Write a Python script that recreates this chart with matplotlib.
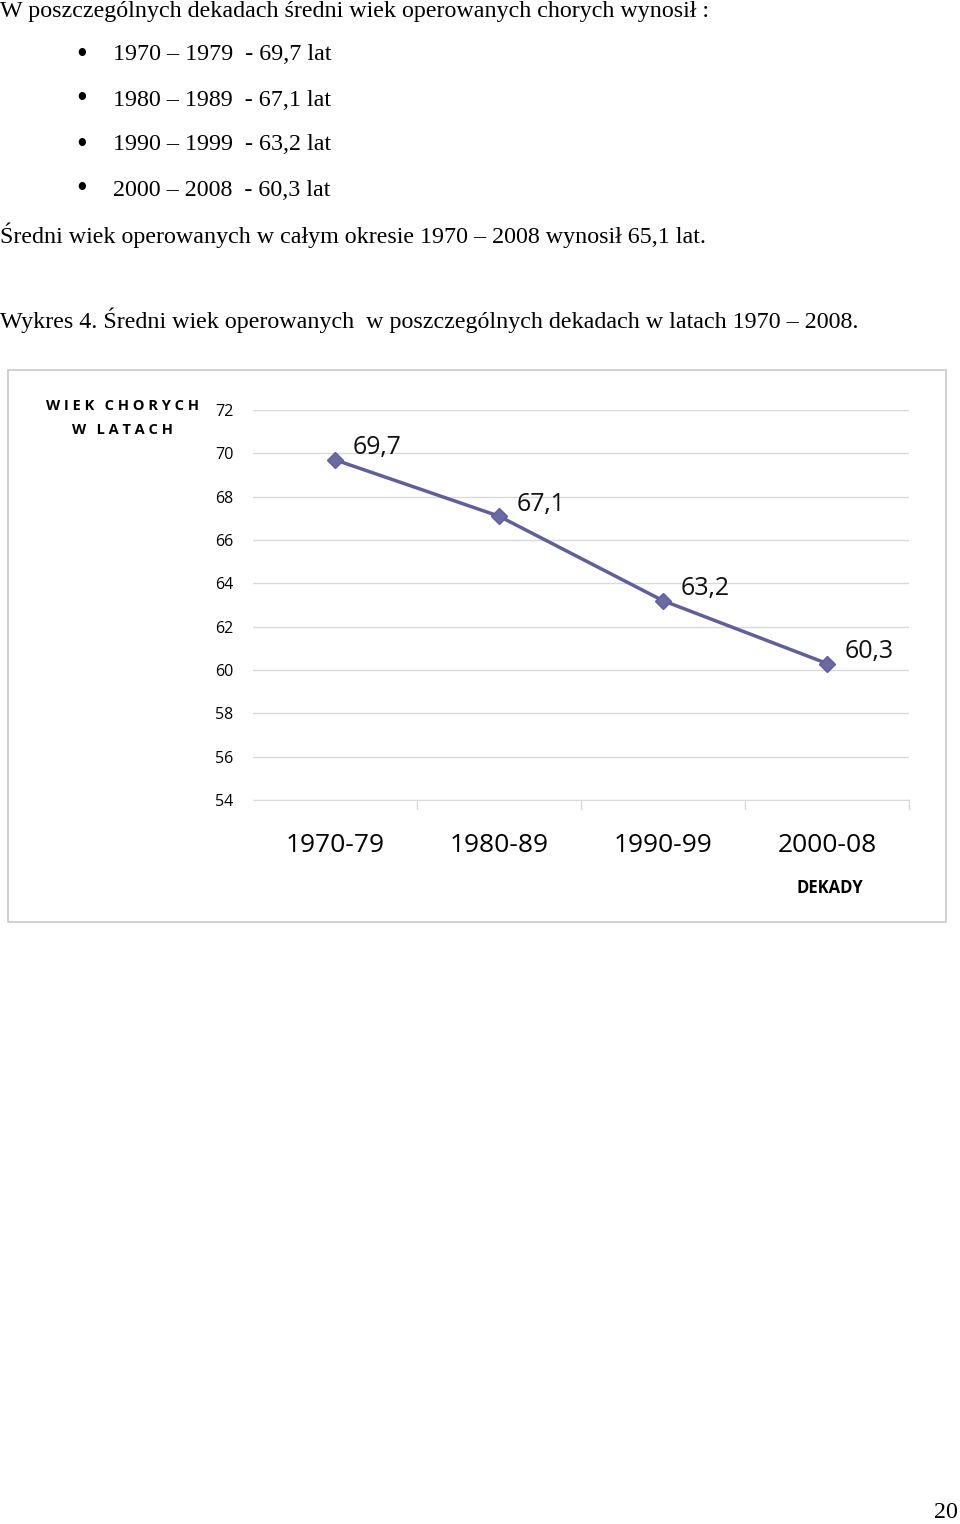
import matplotlib
matplotlib.use("Agg")
import matplotlib.pyplot as plt
from matplotlib.patches import Rectangle

categories = ["1970-79", "1980-89", "1990-99", "2000-08"]
values = [69.7, 67.1, 63.2, 60.3]
value_labels = ["69,7", "67,1", "63,2", "60,3"]
yticks = [54, 56, 58, 60, 62, 64, 66, 68, 70, 72]
bullets = ["1970 – 1979  - 69,7 lat", "1980 – 1989  - 67,1 lat",
           "1990 – 1999  - 63,2 lat", "2000 – 2008  - 60,3 lat"]

W, H = 960, 1524
fig = plt.figure(figsize=(9.6, 15.24), dpi=100)
def T(x, y, s, **kw):
    fig.text(x / W, 1 - y / H, s, **kw)

serif = dict(family="Liberation Serif", fontsize=17.3, va="center")
T(0, 12, "W poszczególnych dekadach średni wiek operowanych chorych wynosił :", **serif)
for i, b in enumerate(bullets):
    y = 55 + 45 * i
    T(76, y, "•", family="Liberation Serif", fontsize=22, va="center")
    T(113, y, b, **serif)
T(0, 235, "Średni wiek operowanych w całym okresie 1970 – 2008 wynosił 65,1 lat.", **serif)
T(0, 320, "Wykres 4. Średni wiek operowanych  w poszczególnych dekadach w latach 1970 – 2008.", **serif)
T(958, 1513, "20", ha="right", **serif)

fig.patches.append(Rectangle((8 / W, 1 - 922 / H), 938 / W, 552 / H,
                             transform=fig.transFigure, fill=False,
                             edgecolor="#c8c8c8", lw=1.2))

ax = fig.add_axes([253 / W, 1 - 800 / H, 656 / W, 390 / H])
x = [i + 0.5 for i in range(len(categories))]
ax.plot(x, values, color="#5f5f9a", lw=2.5, marker="D", ms=8,
        mfc="#6a6aa5", mec="#5f5f9a")
for xi, v, l in zip(x, values, value_labels):
    ax.text(xi + 0.11, v + 0.55, l, family="Open Sans", fontsize=18,
            ha="left", va="center", color="#111111")
ax.set_xlim(0, 4)
ax.set_ylim(54, 72)
ax.set_yticks(yticks)
ax.set_yticklabels([str(t) for t in yticks], family="Open Sans", fontsize=11.5)
ax.tick_params(axis="y", length=0, pad=14)
ax.grid(axis="y", color="#d9d9d9", lw=1)
ax.set_axisbelow(True)
ax.set_xticks(x)
ax.set_xticklabels(categories, family="Open Sans", fontsize=19)
ax.tick_params(axis="x", length=0, pad=24)
for i in range(1, 5):
    ax.plot([i, i], [54, 53.6], color="#d9d9d9", lw=1, clip_on=False)
for s in ["top", "right", "left"]:
    ax.spines[s].set_visible(False)
ax.spines["bottom"].set_color("#d9d9d9")

T(122, 434, "W I E K   C H O R Y C H\nW   L A T A C H".replace("  ", "\u2009 "),
  family="Open Sans", fontsize=10.5, weight="bold", ha="center", linespacing=1.9)
T(830, 893, "DEKADY", family="Open Sans", fontsize=12, weight="bold", ha="center")

fig.savefig("out.png", dpi=100, facecolor="white")
